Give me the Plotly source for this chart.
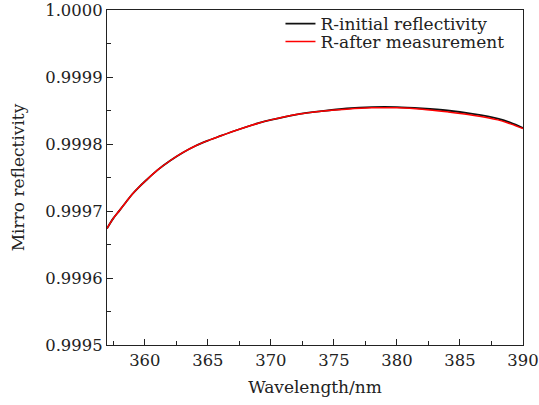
import plotly.graph_objects as go

wavelength = [357.0, 357.5, 358.0, 358.5, 359.0, 359.5, 360.0, 361.0, 362.0, 363.0,
              364.0, 365.0, 366.0, 367.5, 369.0, 370.0, 372.0, 374.0, 376.0, 378.0,
              380.0, 382.0, 384.0, 386.0, 388.0, 389.0, 390.0]
r_after = [0.999674, 0.999689, 0.999701, 0.999713, 0.999725, 0.999735, 0.999744, 0.999761,
           0.999775, 0.999787, 0.999797, 0.999805, 0.999812, 0.999822, 0.999831, 0.999836,
           0.999844, 0.999849, 0.999852, 0.999854, 0.999854, 0.999852, 0.999848, 0.999843,
           0.999836, 0.999830, 0.999823]
r_initial = [0.999674, 0.999689, 0.999701, 0.999713, 0.999725, 0.999735, 0.999744, 0.999761,
             0.999775, 0.999787, 0.999797, 0.999805, 0.999812, 0.999822, 0.999831, 0.999836,
             0.999844, 0.999849, 0.999853, 0.999855, 0.999855, 0.999853, 0.999850, 0.999845,
             0.999838, 0.999832, 0.999824]

x_ticks = [360, 365, 370, 375, 380, 385, 390]
y_ticks = [0.9995, 0.9996, 0.9997, 0.9998, 0.9999, 1.0000]
y_tick_labels = ["0.9995", "0.9996", "0.9997", "0.9998", "0.9999", "1.0000"]

FONT = "DejaVu Serif"
FS = 17
TFS = 16.4

fig = go.Figure()
fig.add_trace(go.Scatter(x=wavelength, y=r_initial, mode="lines", name="R-initial reflectivity",
                         line=dict(color="#111111", width=1.8, shape="spline"),
                         legend="legend", showlegend=True))
fig.add_trace(go.Scatter(x=wavelength, y=r_after, mode="lines", name="R-after measurement",
                         line=dict(color="#ff0000", width=1.5, shape="spline"),
                         legend="legend2", showlegend=True))

axis_common = dict(
    showline=True, linecolor="#222222", linewidth=1.3, mirror=True,
    ticks="inside", ticklen=6, tickwidth=1.2, tickcolor="#222222",
    showgrid=False, zeroline=False, automargin=False,
    tickfont=dict(family=FONT, size=TFS, color="#222222"),
)

legend_common = dict(xanchor="left", yanchor="top", bgcolor="rgba(0,0,0,0)",
                     borderwidth=0, font=dict(family=FONT, size=FS, color="#222222"),
                     itemwidth=30, xref="paper", yref="paper")

fig.update_layout(
    width=539, height=405,
    margin=dict(l=107, r=16, t=10, b=60, autoexpand=False),
    paper_bgcolor="white", plot_bgcolor="white",
    showlegend=True,
    font=dict(family=FONT, size=FS, color="#222222"),
    xaxis=dict(range=[357, 390], tickvals=x_ticks,
               minor=dict(ticks="inside", ticklen=3.5, tickwidth=1.1, dtick=2.5, tick0=360,
                          tickcolor="#222222", showgrid=False),
               title=dict(text="Wavelength/nm", font=dict(family=FONT, size=FS), standoff=12),
               **axis_common),
    yaxis=dict(range=[0.9995, 1.0000], tickvals=y_ticks, ticktext=y_tick_labels,
               minor=dict(ticks="inside", ticklen=3.5, tickwidth=1.1, dtick=0.00005,
                          tickcolor="#222222", showgrid=False),
               title=dict(text="Mirro reflectivity", font=dict(family=FONT, size=FS), standoff=16),
               **axis_common),
    legend=dict(x=0.417, y=1.012, **legend_common),
    legend2=dict(x=0.417, y=0.958, **legend_common),
)

fig.write_html("out.html")
